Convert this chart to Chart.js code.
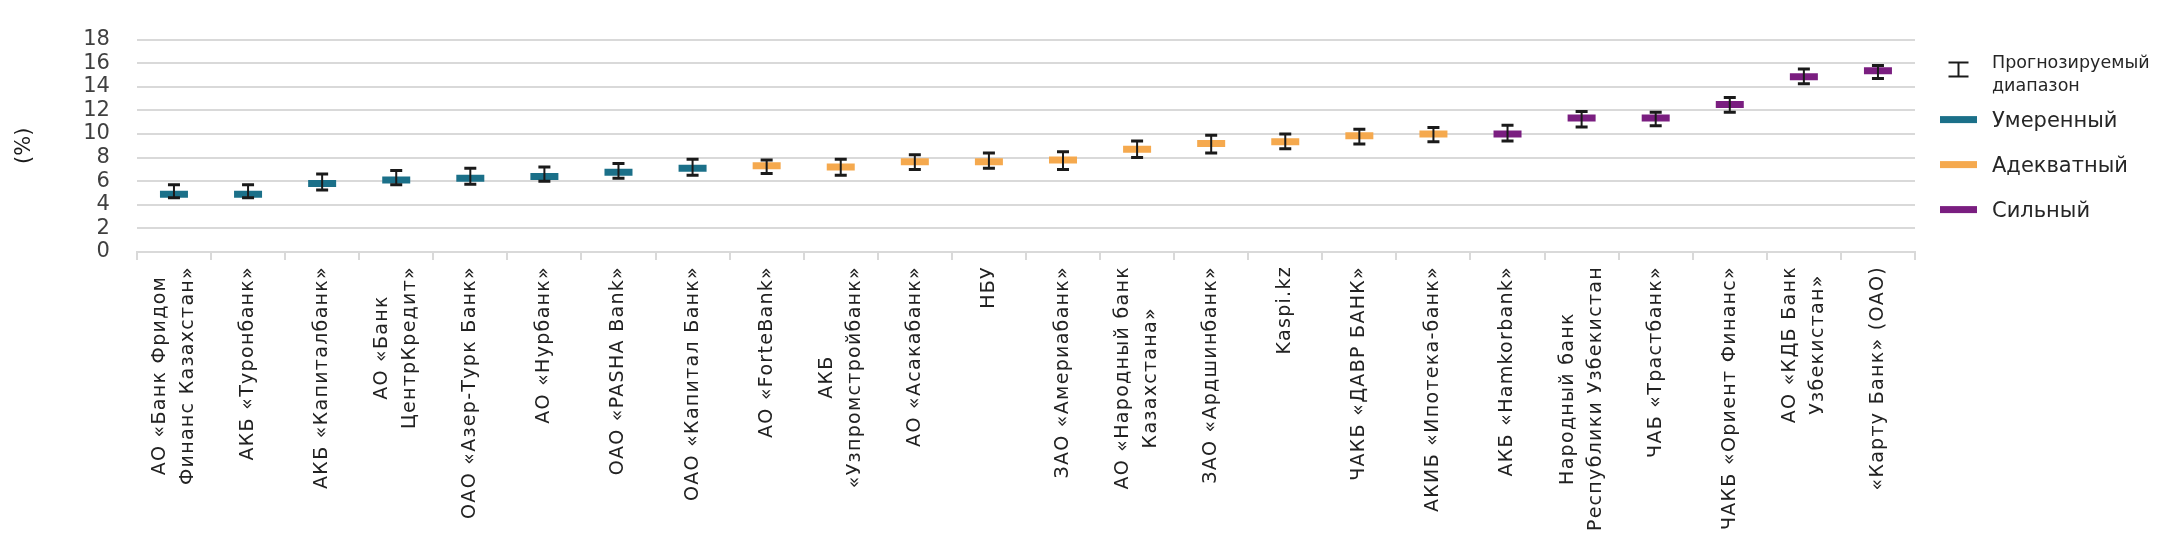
<!DOCTYPE html>
<html lang="ru">
<head>
<meta charset="utf-8">
<title>Прогнозируемый диапазон</title>
<script src="https://cdn.jsdelivr.net/npm/chart.js@4.4.1/dist/chart.umd.min.js"></script>
<style>
  html, body { margin: 0; padding: 0; background: #fff; }
  #chart { display: block; }
</style>
</head>
<body>
<canvas id="chart" width="2160" height="556"></canvas>
<script>
// banks in the order of the chart (arrays = two-line labels)
const banks = [
  ['АО «Банк Фридом', 'Финанс Казахстан»'],
  'АКБ «Туронбанк»',
  'АКБ «Капиталбанк»',
  ['АО «Банк', 'ЦентрКредит»'],
  'ОАО «Азер-Турк Банк»',
  'АО «Нурбанк»',
  'ОАО «PASHA Bank»',
  'ОАО «Капитал Банк»',
  'АО «ForteBank»',
  ['АКБ', '«Узпромстройбанк»'],
  'АО «Асакабанк»',
  'НБУ',
  'ЗАО «Америабанк»',
  ['АО «Народный банк', 'Казахстана»'],
  'ЗАО «Ардшинбанк»',
  'Kaspi.kz',
  'ЧАКБ «ДАВР БАНК»',
  'АКИБ «Ипотека-банк»',
  'АКБ «Hamkorbank»',
  ['Народный банк', 'Республики Узбекистан'],
  'ЧАБ «Трастбанк»',
  'ЧАКБ «Ориент Финанс»',
  ['АО «КДБ Банк', 'Узбекистан»'],
  '«Карту Банк» (ОАО)'
];

const groupNames = ['Умеренный', 'Адекватный', 'Сильный'];
const groups = [
  'Умеренный', 'Умеренный', 'Умеренный', 'Умеренный', 'Умеренный', 'Умеренный', 'Умеренный', 'Умеренный',
  'Адекватный', 'Адекватный', 'Адекватный', 'Адекватный', 'Адекватный', 'Адекватный', 'Адекватный',
  'Адекватный', 'Адекватный', 'Адекватный',
  'Сильный', 'Сильный', 'Сильный', 'Сильный', 'Сильный', 'Сильный'
];

// point estimate and forecast range, %
const centerValues = [4.9, 4.9, 5.8, 6.1, 6.25, 6.4, 6.75, 7.1, 7.3, 7.2, 7.65, 7.65,
                      7.8, 8.7, 9.2, 9.35, 9.85, 10.0, 10.0, 11.35, 11.35, 12.5, 14.85, 15.35];
const rangeLow = [4.6, 4.6, 5.25, 5.7, 5.75, 6.0, 6.25, 6.5, 6.65, 6.5, 7.0, 7.1,
                  7.0, 8.0, 8.4, 8.75, 9.15, 9.35, 9.4, 10.6, 10.7, 11.85, 14.25, 14.7];
const rangeHigh = [5.7, 5.7, 6.6, 6.9, 7.1, 7.2, 7.5, 7.85, 7.8, 7.85, 8.25, 8.4,
                   8.5, 9.4, 9.9, 10.0, 10.4, 10.55, 10.75, 11.9, 11.85, 13.1, 15.5, 15.8];

const yTicks = [0, 2, 4, 6, 8, 10, 12, 14, 16, 18];
const rangeLabel = ['Прогнозируемый', 'диапазон'];

const groupColors = ['#1b7089', '#f5a94e', '#7a1e80'];
const FONT = '"DejaVu Sans", Verdana, sans-serif';

Chart.defaults.font.family = FONT;

// draws the forecast range (I-beam) for each bank
const rangeBars = {
  id: 'rangeBars',
  afterDatasetsDraw(chart) {
    const { ctx, scales: { x, y } } = chart;
    ctx.save();
    ctx.strokeStyle = '#1a1a1a';
    banks.forEach((b, i) => {
      const px = x.getPixelForValue(i);
      const top = y.getPixelForValue(rangeHigh[i]);
      const bottom = y.getPixelForValue(rangeLow[i]);
      ctx.lineWidth = 2;
      ctx.beginPath();
      ctx.moveTo(px, top);
      ctx.lineTo(px, bottom);
      ctx.stroke();
      ctx.lineWidth = 3;
      ctx.beginPath();
      ctx.moveTo(px - 6, top);
      ctx.lineTo(px + 6, top);
      ctx.moveTo(px - 6, bottom);
      ctx.lineTo(px + 6, bottom);
      ctx.stroke();
    });
    ctx.restore();
  }
};

// vertical category labels, lines centred on each other
const bankLabels = {
  id: 'bankLabels',
  afterDraw(chart) {
    const { ctx, scales: { x } } = chart;
    ctx.save();
    ctx.font = '19px ' + FONT;
    ctx.letterSpacing = '1.3px';
    ctx.fillStyle = '#222';
    ctx.textAlign = 'center';
    ctx.textBaseline = 'middle';
    banks.forEach((name, i) => {
      const lines = [].concat(name);
      const w = Math.max(...lines.map(l => ctx.measureText(l).width));
      ctx.save();
      ctx.translate(x.getPixelForValue(i), x.bottom + 6);
      ctx.rotate(-Math.PI / 2);
      lines.forEach((l, k) => ctx.fillText(l, -w / 2, (k - (lines.length - 1) / 2) * 28));
      ctx.restore();
    });
    ctx.restore();
  }
};

// legend on the right side
const sideLegend = {
  id: 'sideLegend',
  afterDraw(chart) {
    const { ctx, chartArea: { top, right } } = chart;
    const boxX = right + 25;
    const textX = right + 77;
    const cx = boxX + 18.5;
    ctx.save();
    ctx.strokeStyle = '#1a1a1a';
    ctx.lineWidth = 2;
    ctx.beginPath();
    ctx.moveTo(cx, top + 23);
    ctx.lineTo(cx, top + 37);
    ctx.moveTo(cx - 10, top + 23);
    ctx.lineTo(cx + 10, top + 23);
    ctx.moveTo(cx - 10, top + 37);
    ctx.lineTo(cx + 10, top + 37);
    ctx.stroke();

    ctx.fillStyle = '#262626';
    ctx.textBaseline = 'middle';
    ctx.font = '17.5px ' + FONT;
    rangeLabel.forEach((l, k) => ctx.fillText(l, textX, top + 24 + k * 23));

    ctx.font = '21px ' + FONT;
    groupNames.forEach((g, k) => {
      const yy = top + 80 + k * 45;
      ctx.fillStyle = groupColors[k];
      ctx.fillRect(boxX, yy - 3.5, 37, 7);
      ctx.fillStyle = '#262626';
      ctx.fillText(g, textX, yy + 2);
    });
    ctx.restore();
  }
};

new Chart(document.getElementById('chart'), {
  type: 'line',
  data: {
    labels: banks,
    datasets: groupNames.map((g, k) => ({
      label: g,
      data: centerValues.map((v, i) => (groups[i] === g ? v : null)),
      showLine: false,
      pointStyle: 'line',
      pointRadius: 14,
      pointHoverRadius: 14,
      pointBorderWidth: 7,
      pointBorderColor: groupColors[k],
      pointBackgroundColor: groupColors[k],
      borderColor: groupColors[k],
      backgroundColor: groupColors[k]
    }))
  },
  options: {
    responsive: false,
    animation: false,
    layout: { padding: { top: 34, right: 245, bottom: 296, left: 8 } },
    plugins: {
      legend: { display: false },
      tooltip: { enabled: false }
    },
    scales: {
      x: {
        offset: true,
        grid: {
          offset: true,
          drawOnChartArea: false,
          drawTicks: true,
          tickLength: 8,
          color: '#d9d9d9',
          lineWidth: 2
        },
        border: { color: '#d9d9d9', width: 2 },
        ticks: { display: false }
      },
      y: {
        min: 0,
        max: 18,
        afterBuildTicks: axis => { axis.ticks = yTicks.map(v => ({ value: v })); },
        ticks: { autoSkip: false, padding: 27, color: '#404040', font: { size: 21 } },
        grid: { color: '#d9d9d9', lineWidth: 2, drawTicks: false },
        border: { display: false },
        title: {
          display: true,
          text: '(%)',
          color: '#1a1a1a',
          font: { size: 21 },
          padding: { top: 4, bottom: 19 }
        }
      }
    }
  },
  plugins: [rangeBars, bankLabels, sideLegend]
});
</script>
</body>
</html>
